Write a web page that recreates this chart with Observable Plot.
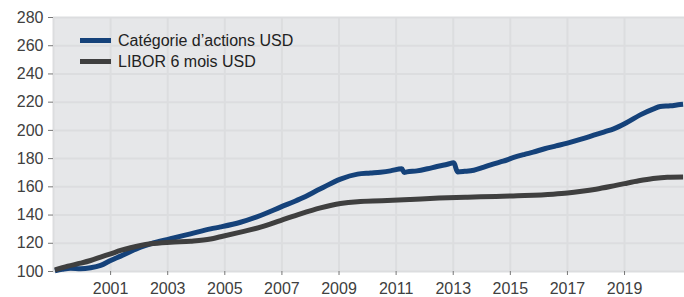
<!DOCTYPE html>
<html><head><meta charset="utf-8">
<script src="https://cdn.jsdelivr.net/npm/d3@7"></script>
<script src="https://cdn.jsdelivr.net/npm/@observablehq/plot@0.6"></script>
<style>
body{margin:0;background:#fff;font-family:"Liberation Sans",Arial,sans-serif;}
#wrap{position:relative;width:684px;height:297px;}
.legend{position:absolute;left:80px;top:30px;font-size:16px;color:#222;line-height:21px;}
.item{display:flex;align-items:center;height:21px;}
.sw{width:31px;height:5px;margin-right:7px;}
</style></head><body>
<div id="wrap"></div>
<script>
const seriesNames = ["Catégorie d’actions USD", "LIBOR 6 mois USD"];
const seriesColors = ["#15427a", "#3f3f3f"];

const blueYears = [1999.05,1999.3,1999.6,1999.95,2000.3,2000.65,2001.0,2001.35,2001.7,2002.05,2002.4,2003.1,2003.8,2004.5,2004.85,2005.55,2006.25,2006.95,2007.65,2008.35,2009.05,2009.65,2010.1,2010.45,2010.8,2011.2,2011.28,2011.38,2011.73,2012.1,2012.43,2012.8,2013.02,2013.15,2013.4,2013.72,2014.05,2014.42,2014.75,2015.12,2015.5,2015.8,2016.2,2016.6,2017.0,2017.45,2017.92,2018.3,2018.62,2019.08,2019.55,2020.02,2020.25,2020.6,2020.95,2021.05];
const blueValues = [100.5,101.5,102.3,101.9,102.6,104.3,107.8,110.9,114.2,117.2,119.6,123.2,126.7,130.2,131.6,134.9,139.7,145.6,151.5,158.6,165.5,169.0,169.8,170.4,171.3,172.8,170.2,170.6,171.3,172.8,174.4,176.0,177.0,170.6,171.0,171.8,173.8,176.3,178.2,180.8,183.0,184.6,187.0,189.0,191.0,193.6,196.6,199.0,201.1,205.6,211.0,215.3,216.9,217.4,218.3,218.5];

const grayYears = [1999.05,1999.5,1999.95,2000.3,2000.65,2001.0,2001.35,2001.7,2002.05,2002.4,2003.1,2003.8,2004.5,2004.85,2005.55,2006.25,2006.95,2007.65,2008.35,2009.05,2009.65,2010.5,2011.5,2012.5,2013.5,2014.5,2015.5,2016.5,2017.0,2017.5,2018.0,2018.5,2019.0,2019.5,2020.0,2020.5,2021.05];
const grayValues = [101.2,103.8,105.9,107.8,110.2,112.5,114.9,116.8,118.4,119.6,120.8,121.5,123.0,124.6,127.9,131.4,136.1,140.9,145.1,148.2,149.5,150.1,151.0,152.0,152.7,153.2,153.8,154.8,155.6,156.8,158.3,160.2,162.3,164.3,165.9,166.8,167.0];

const yTicks = [100,120,140,160,180,200,220,240,260,280];
const xTicks = [2001,2003,2005,2007,2009,2011,2013,2015,2017,2019];
const xGrid = [1999,2001,2003,2005,2007,2009,2011,2013,2015,2017,2019];

const data = [
  ...blueYears.map((x,i)=>({x, y: blueValues[i], s: seriesNames[0]})),
  ...grayYears.map((x,i)=>({x, y: grayValues[i], s: seriesNames[1]}))
];

const chart = Plot.plot({
  width: 684, height: 297,
  marginLeft: 53, marginRight: 0, marginTop: 17, marginBottom: 26,
  style: {fontFamily: "'Liberation Sans', Arial, sans-serif", fontSize: "16px", background: "transparent", overflow: "visible"},
  x: {domain: [1999, 2021.1]},
  y: {domain: [100, 280]},
  color: {domain: seriesNames, range: seriesColors},
  marks: [
    Plot.frame({fill: "#e6e7e9", stroke: null}),
    Plot.gridY(yTicks, {stroke: "#dcdddf", strokeOpacity: 1, strokeWidth: 2}),
    Plot.gridX(xGrid, {stroke: "#dcdddf", strokeOpacity: 1, strokeWidth: 2}),
    Plot.axisY(yTicks, {tickSize: 5, tickPadding: 5, stroke: "#777", fill: "#404040", label: null}),
    Plot.axisX(xTicks, {tickSize: 4, tickPadding: 7, tickFormat: d3.format("d"), stroke: "#777", fill: "#404040", label: null}),
    Plot.line(data, {x: "x", y: "y", z: "s", stroke: "s", strokeWidth: 5, curve: "monotone-x", strokeLinecap: "butt"})
  ]
});
const wrap = document.getElementById("wrap");
wrap.appendChild(chart);
const lg = document.createElement("div");
lg.className = "legend";
seriesNames.forEach((n,i)=>{
  const it = document.createElement("div"); it.className = "item";
  const sw = document.createElement("span"); sw.className = "sw"; sw.style.background = seriesColors[i];
  const tx = document.createElement("span"); tx.textContent = n;
  it.appendChild(sw); it.appendChild(tx); lg.appendChild(it);
});
wrap.appendChild(lg);
</script>
</body></html>
